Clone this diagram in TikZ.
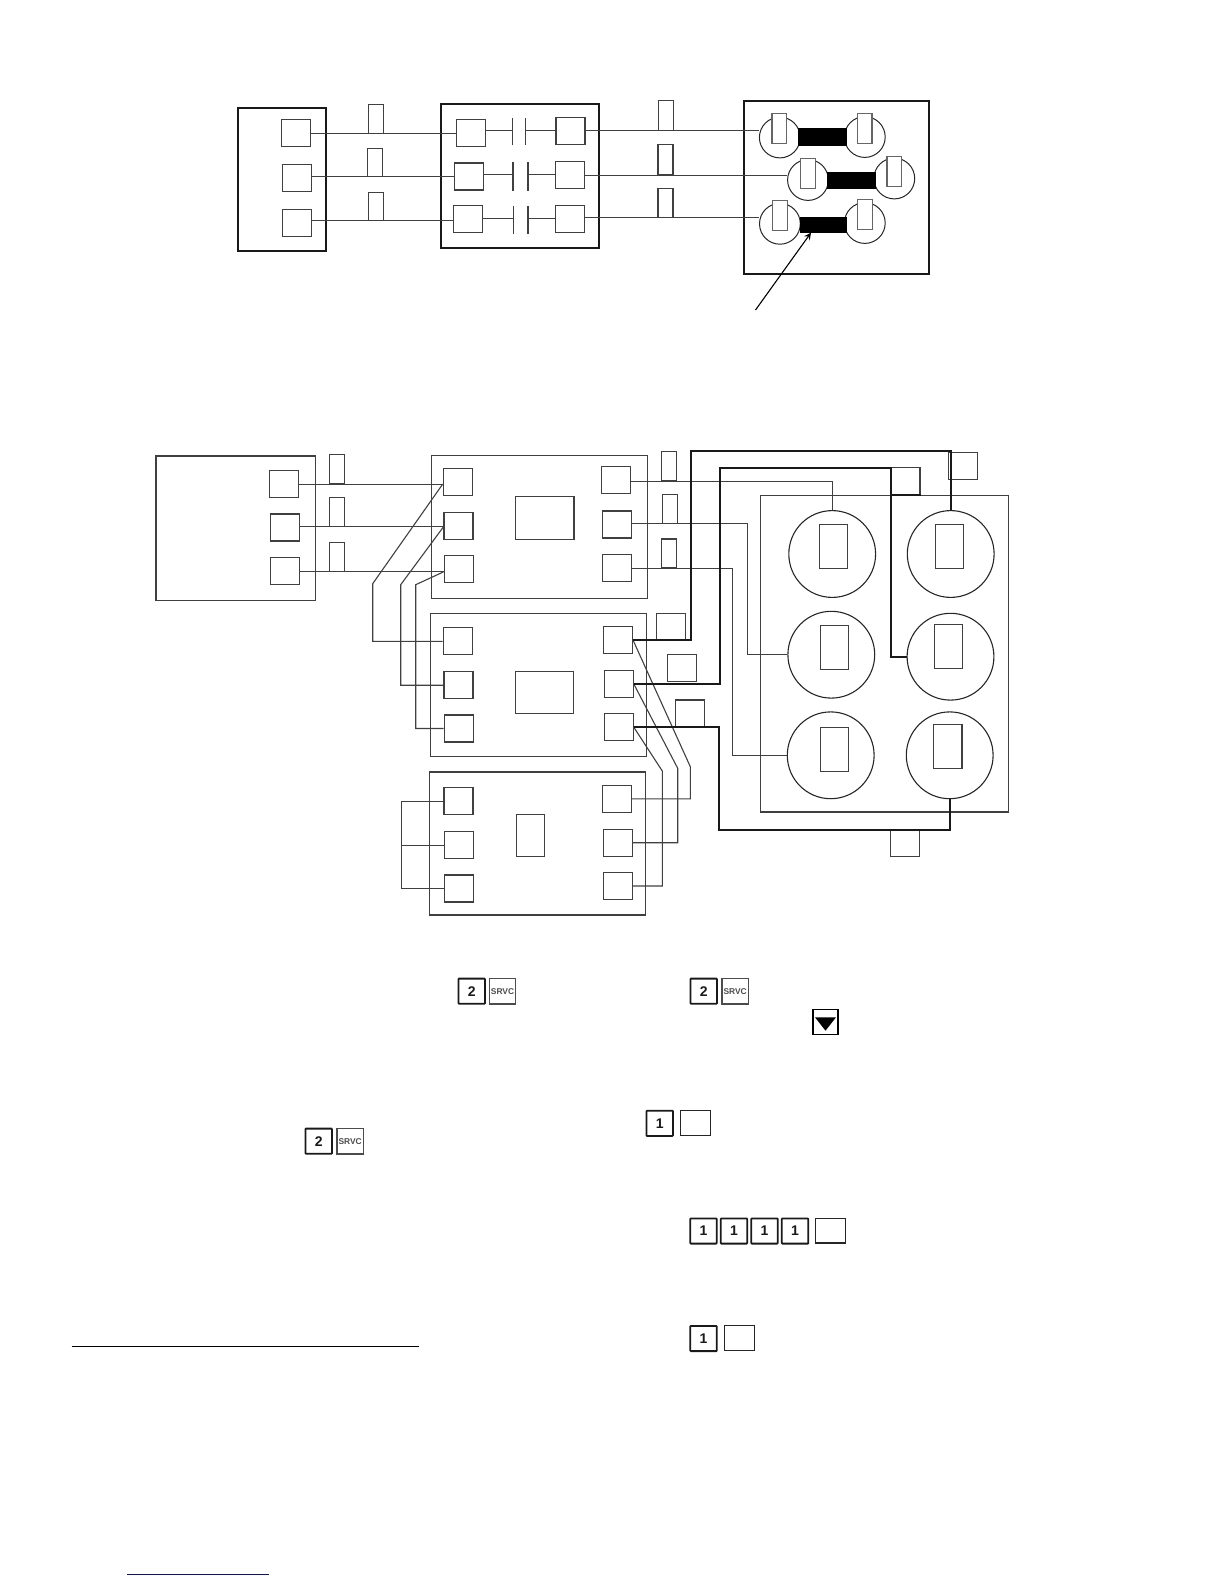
\documentclass[tikz,border=0pt]{standalone}
\usepackage{fontspec}
\setmainfont{Liberation Sans}
\usepackage{xcolor}
\definecolor{linkblue}{rgb}{0.05, 0.05, 0.55}
\definecolor{wiregray}{gray}{0.25}
\usetikzlibrary{calc}
\tikzstyle{wire} = [line width=0.55pt,wiregray]
\tikzstyle{hotwire} = [line width=1.1pt,black!90]
\tikzstyle{frame} = [draw,line width=0.55pt,wiregray,inner sep=0pt]
\tikzstyle{heavyframe} = [draw,line width=1pt,black!90,inner sep=0pt]
\tikzstyle{term} = [draw,line width=0.55pt,wiregray,fill=white,inner sep=0pt,minimum width=14.5pt,minimum height=13.5pt]
\tikzstyle{lug} = [draw,line width=0.55pt,wiregray,inner sep=0pt,minimum width=7.5pt,minimum height=14.5pt]
\tikzstyle{tag} = [draw,line width=0.55pt,wiregray,inner sep=0pt,minimum width=14.7pt,minimum height=13.5pt]
\tikzstyle{slot} = [draw,line width=0.55pt,wiregray,fill=white,inner sep=0pt,minimum width=14.2pt,minimum height=22pt]
\tikzstyle{pole} = [draw,circle,line width=0.55pt,black!85,inner sep=0pt,minimum size=43.4pt]
\tikzstyle{smallpole} = [draw,circle,line width=0.5pt,black!85,inner sep=0pt,minimum size=20.4pt]
\tikzstyle{smallslot} = [draw,line width=0.6pt,black!60,fill=white,inner sep=0pt,minimum width=7.4pt,minimum height=15pt]
\tikzstyle{keynum} = [draw,line width=0.9pt,black!90,fill=white,inner sep=0pt,rounded corners=0.3pt,minimum width=13.2pt,minimum height=12.6pt,font=\bfseries\fontsize{7}{8}\selectfont]
\tikzstyle{keysrvc} = [draw,line width=0.6pt,black!70,fill=white,inner sep=0pt,minimum width=13.2pt,minimum height=12.8pt,font=\bfseries\fontsize{4.2}{5}\selectfont]
\tikzstyle{keyblank} = [draw,line width=0.7pt,black!85,fill=white,inner sep=0pt,minimum width=14.8pt,minimum height=12.4pt]
\begin{document}
\begin{tikzpicture}[x=0.5pt,y=-0.5pt]
\useasboundingbox (0,0) rectangle (1224,1584);

% upper panel
\node[heavyframe,minimum width=43.8pt,minimum height=71.8pt] (srcbox) at (281.8,179.5) {};
\node[heavyframe,minimum width=79.45pt,minimum height=72.2pt] (brkbox) at (520,175.8) {};
\node[heavyframe,minimum width=92.6pt,minimum height=86.6pt] (motbox) at (836.7,187.3) {};

\foreach \n/\x/\y in {sa/296/133.3,sb/296.6/178.3,sc/297/222.8,ma/471.1/133.3,mb/469.2/176.5,mc/468.3/219.3,
na/570.5/130.8,nb/570.1/174.8,nc/570.1/218.8} {
\node[term] (\n) at (\x,\y) {};
}
\foreach \n/\x/\y/\h in {ua/375.7/118.8/14.5,ub/375.3/162.3/14,uc/375.7/206.3/14,va/665.9/115.3/15,vb/665.5/159.5/15.2,vc/665.5/202.8/14.5} {
\node[lug,minimum height=\h pt] (\n) at (\x,\y) {};
}
\foreach \n/\x/\y in {pa/779.8/137.5,qa/864.8/137,pb/808/180,qb/894.3/178.5,pc/779.9/223.8,qc/864.8/223} {
\node[smallpole] (\n) at (\x,\y) {};
}
\draw[fill=black] (798.6,128) rectangle (845.9,145);
\draw[fill=black] (827.5,172) rectangle (875.6,188.3);
\draw[fill=black] (800,217) rectangle (846.3,232);
\foreach \n/\x/\y in {ra/779.3/128.8,rb/864.5/128.8,rc/807.9/173.5,rd/894.3/171.5,re/780.2/215.5,rf/865.2/214.5} {
\node[smallslot] (\n) at (\x,\y) {};
}

\foreach \a/\b/\u in {sa/ma/ua,sb/mb/ub,sc/mc/uc} {
\draw[wire] (\a.east |- \u.south) -- (\b.west |- \u.south);
}
\foreach \a/\b/\u in {na/pa/va,nb/pb/vb,nc/pc/vc} {
\draw[wire] (\a.east |- \u.south) -- (\b.west |- \u.south);
}
\foreach \a/\b/\xa/\xb/\top/\bot in {ma/na/512.1/525.8/118.3/145.3,mb/nb/513/528/162.3/190.7,mc/nc/513.9/528/206/234} {
\coordinate (platea) at (\xa,\top);
\coordinate (plateb) at (\xb,\top);
\draw[wire] (\a.east |- \b.west) -- (platea |- \b.west);
\draw[wire] (plateb |- \b.west) -- (\b.west);
\draw[wire] (platea) -- (\xa,\bot);
\draw[wire] (plateb) -- (\xb,\bot);
}
\coordinate (tail) at (755.5,310);
\draw[line width=0.55pt,-stealth] (tail) -- (811,232.7);

% lower panel
\node[frame,minimum width=79.8pt,minimum height=72.2pt] (feed) at (235.8,528.2) {};
\node[frame,minimum width=108.2pt,minimum height=71.5pt] (unita) at (539.5,526.8) {};
\node[frame,minimum width=108.2pt,minimum height=71.5pt] (unitb) at (538.5,685.2) {};
\node[frame,minimum width=108pt,minimum height=71.5pt] (unitc) at (537.3,843.5) {};
\node[frame,minimum width=123.8pt,minimum height=158.4pt] (bank) at (884.5,653.6) {};

\node[frame,minimum width=29.3pt,minimum height=21.3pt] (coila) at (544.7,518) {};
\node[frame,minimum width=29.2pt,minimum height=21pt] (coilb) at (544.5,692.3) {};
\node[frame,minimum width=13.8pt,minimum height=21.2pt] (coilc) at (530.5,835.5) {};

\foreach \n/\x/\y in {fa/284/483.8,fb/284.8/527.5,fc/284.8/570.8,
aa/457.8/482.2,ab/458.5/526,ac/458.6/569.2,ad/616.2/480.3,ae/617.2/524.5,af/617.2/567.7,
ba/457.6/641.3,bb/458.5/685.2,bc/458.6/728.5,bd/617.8/639.7,be/618.6/683.7,bf/618.6/727,
ca/458.5/801.2,cb/459.3/845.2,cc/459.3/888.5,cd/617/798.9,ce/617.8/842.7,cf/617.8/886} {
\node[term] (\n) at (\x,\y) {};
}
\foreach \n/\x/\y in {ta/337.4/469,tb/337.3/511.8,tc/337.3/556.8,td/669.2/466.2,te/670/508.8,tf/668.8/553.5} {
\node[lug] (\n) at (\x,\y) {};
}
\foreach \n/\x/\y in {ga/671/627.2,gb/682/668.3,gc/690/713.5,gd/963/466.2,ge/905.3/481.3,gf/905/843.2} {
\node[tag] (\n) at (\x,\y) {};
}
\foreach \n/\x/\y in {la/832.2/554,ra1/950.7/554,lb/831.3/654.7,rb1/950.5/656.7,lc/830.7/755.3,rc1/949.7/755.3} {
\node[pole] (\n) at (\x,\y) {};
}
\foreach \n/\x/\y in {xa/833.5/546.2,xb/949.5/546.7,xc/834.3/647.8,xd/948.5/646.8,xe/834.7/749.3,xf/947.8/746.8} {
\node[slot] (\n) at (\x,\y) {};
}

% line side
\draw[wire] (fa.east |- ta.south) -- (aa.west |- ta.south);
\draw[wire] (fb.east |- tb.south) -- (ab.west |- tb.south);
\draw[wire] (fc.east |- tc.south) -- (ac.west |- tc.south);
\draw[wire] (aa.west |- ta.south) -- (372.7,583.7) |- (ba.west);
\draw[wire] (ab.west |- tb.south) -- (400.7,584.7) |- (bb.west);
\draw[wire] (ac.west |- tc.south) -- (415.7,584.7) |- (bc.west);
\coordinate (bus) at (401.7,845.2);
\draw[wire] (ca.west) -| (bus);
\draw[wire] (cc.west) -| (bus);
\draw[wire] (bus) -- (cb.west);

% load side
\draw[wire] (ad.east |- td.south) -| (la.north);
\draw[wire] (ae.east |- te.south) -| (747.3,654.7) -- (lb.west);
\draw[wire] (af.east |- tf.south) -| (732.7,755.3) -- (lc.west);
\draw[wire] (bd.east) -- (690.3,766.7) |- (cd.east);
\draw[wire] (be.east) -- (677.7,768.3) |- (ce.east);
\draw[wire] (bf.east) -- (662.3,771) |- (cf.east);
\draw[hotwire] (bd.east) -| (691,451) -| (ra1.north);
\draw[hotwire] (be.east) -| (720,468.3) -- (891,468.3) |- (rb1.west);
\draw[hotwire] (bf.east) -| (719,829.7) -| (rc1.south);
\draw[hotwire] (ge.south west) -- (ge.south east);

% keys
\foreach \n/\x/\y/\t in {ka/471.7/991.2/2,kb/703.7/991.2/2,kc/318.7/1141.2/2,kd/659.7/1123.3/1,
ke/703.5/1231/1,kf/734/1231/1,kg/764.5/1231/1,kh/795/1231/1,ki/703.5/1338.5/1} {
\node[keynum] (\n) at (\x,\y) {\t};
}
\foreach \n/\x/\y in {sa2/502.5/991.2,sb2/735.2/991.2,sc2/350.1/1141.2} {
\node[keysrvc] (\n) at (\x,\y) {SRVC};
}
\foreach \n/\x/\y in {bl1/695.5/1122.8,bl2/830.5/1230.7,bl3/739.4/1338} {
\node[keyblank] (\n) at (\x,\y) {};
}
\node[draw,line width=0.8pt,inner sep=0pt,minimum size=12.4pt] (down) at (825.5,1022) {};
\fill (815,1017.3) -- (836,1017.3) -- (825.5,1030.7) -- cycle;

\coordinate (rulea) at (71.7,1346.5);
\coordinate (ruleb) at (419.2,1346.5);
\draw[line width=0.6pt] (rulea) -- (ruleb);
\coordinate (linka) at (127,1574.5);
\coordinate (linkb) at (269,1574.5);
\draw[line width=0.65pt,linkblue] (linka) -- (linkb);
\end{tikzpicture}
\end{document}
